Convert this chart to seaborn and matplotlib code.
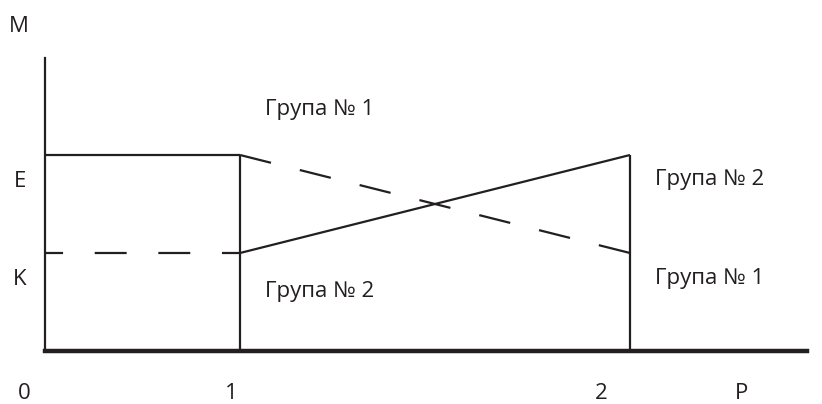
import matplotlib
matplotlib.use("Agg")
import matplotlib.pyplot as plt
import seaborn as sns

sns.set_theme(style="white")
plt.rcParams['font.family'] = ['Open Sans', 'DejaVu Sans']
plt.rcParams['lines.scale_dashes'] = False

INK = "#231f20"

# Data (schematic units)
x_stage = [0, 1, 3]          # 0, boundary 1, boundary 2
level_E = 2.0
level_K = 1.0
solid_x = [0, 1]
solid_y = [level_E, level_E]
solid2_x = [1, 3]
solid2_y = [level_K, level_E]
dashed_x = [0, 1]
dashed_y = [level_K, level_K]
dashed2_x = [1, 3]
dashed2_y = [level_E, level_K]

axis_x_labels = ["0", "1", "2", "P"]
axis_x_label_pos = [-0.105, 0.954, 2.854, 3.574]
axis_y_labels = ["M", "E", "K"]
axis_y_label_pos = [3.26, 1.673, 0.673]
axis_y_label_x = [-0.136, -0.126, -0.128]
group_labels = ["Група № 1", "Група № 2", "Група № 2", "Група № 1"]
group_label_x = [1.128, 3.128, 1.128, 3.128]
group_label_y = [2.408, 1.694, 0.551, 0.684]

fig = plt.figure(figsize=(8.22, 4.04), dpi=100)
ax = fig.add_axes([0, 0, 1, 1])
ax.set_xlim(-45 / 195, 777 / 195)
ax.set_ylim(-53 / 98, 351 / 98)

lw = 1.6


def seg(xs, ys, ls="-"):
    sns.lineplot(x=xs, y=ys, ax=ax, color=INK, lw=lw, estimator=None,
                 sort=False, errorbar=None)
    ax.lines[-1].set_linestyle(ls)
    ax.lines[-1].set_solid_capstyle("butt")
    ax.lines[-1].set_dash_capstyle("butt")


seg(solid_x, solid_y)
seg(solid2_x, solid2_y)
seg(dashed_x, dashed_y, (10, (23, 22.8)))
seg(dashed2_x, dashed2_y, (0, (23, 21.4)))
for xv in x_stage[1:]:
    seg([xv, xv], [0, level_E])

for s in ['top', 'right']:
    ax.spines[s].set_visible(False)
ax.spines['left'].set_position(('data', 0))
ax.spines['bottom'].set_position(('data', 0))
ax.spines['left'].set_bounds(0, 2.99)
ax.spines['bottom'].set_bounds(0, 3.91)
ax.spines['left'].set_linewidth(1.6)
ax.spines['bottom'].set_linewidth(3.2)
ax.spines['left'].set_color(INK)
ax.spines['bottom'].set_color(INK)
ax.set_xticks([])
ax.set_yticks([])
ax.patch.set_alpha(0)

fs = 16
for lab, xp in zip(axis_x_labels, axis_x_label_pos):
    ax.text(xp, -0.49, lab, fontsize=fs, ha='center', va='baseline', color=INK)
for lab, xp, yp in zip(axis_y_labels, axis_y_label_x, axis_y_label_pos):
    ax.text(xp, yp, lab, fontsize=fs, ha='center', va='baseline', color=INK)
for lab, xp, yp in zip(group_labels, group_label_x, group_label_y):
    ax.text(xp, yp, lab, fontsize=fs, ha='left', va='baseline', color=INK)

fig.savefig("out.png", dpi=100)
